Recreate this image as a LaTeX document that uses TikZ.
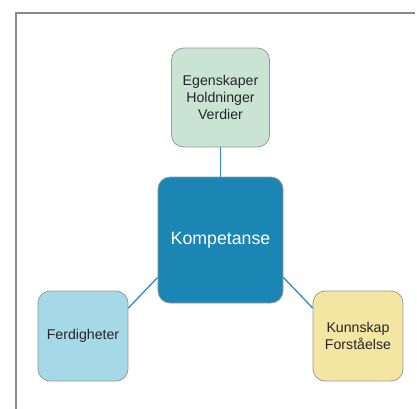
\documentclass[tikz,border=0pt]{standalone}
\usepackage{fontspec}
\setmainfont{Liberation Sans}
\usetikzlibrary{positioning}

\definecolor{gronn}{HTML}{C9E4D3}
\definecolor{kjerne}{HTML}{1B86B4}
\definecolor{lysbla}{HTML}{A5D9E8}
\definecolor{gul}{HTML}{F3E6A2}
\definecolor{linje}{HTML}{2A8DC2}
\definecolor{kant}{HTML}{9A9A9A}

\tikzset{
    boks/.style={draw=kant, line width=0.8pt, rounded corners=12bp, align=center,
        minimum width=90bp, minimum height=90bp, inner sep=2pt,
        font=\fontsize{14.2}{16.8}\selectfont, text=black!85},
    kobling/.style={draw=linje, line width=1.3pt}
}

\begin{document}
\begin{tikzpicture}[x=1bp, y=-1bp]
    \useasboundingbox (0,0) rectangle (417,409);

    % Frame (left and top only)
    \draw[kant!90!black, line width=1.5bp] (16,409) -- (16,13) -- (415,13);

    % Centre box
    \node[boks, fill=kjerne, minimum width=125bp, minimum height=126bp,
        text=white, font=\fontsize{17.8}{21}\selectfont] (komp) at (220.5,240) {Kompetanse};

    % Outer boxes
    \node[boks, fill=gronn, minimum width=98bp, minimum height=99bp] (egen) at (220.5,97.5)
        {Egenskaper\\Holdninger\\Verdier};
    \node[boks, fill=lysbla] (ferd) at (83,336) {Ferdigheter};
    \node[boks, fill=gul] (kunn) at (358,336) {Kunnskap\\Forståelse};

    % Connectors
    \draw[kobling] (egen.south) -- (komp.north);
    \draw[kobling] ([yshift=26bp]komp.south west) -- ([yshift=28bp]ferd.east);
    \draw[kobling] ([yshift=26bp]komp.south east) -- ([yshift=28bp]kunn.west);
\end{tikzpicture}
\end{document}
